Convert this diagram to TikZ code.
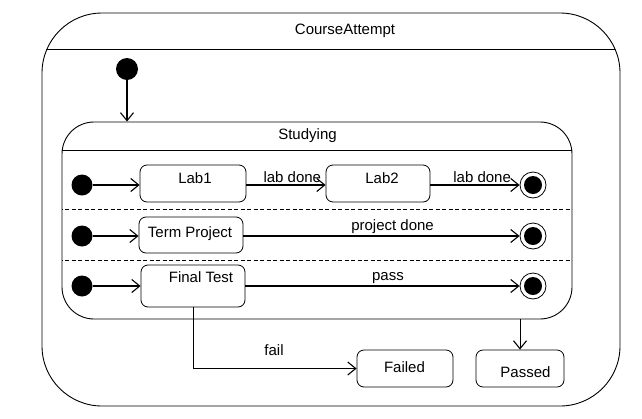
\documentclass[tikz,border=0pt]{standalone}
\usepackage{fontspec}
\setmainfont{Liberation Sans}
\usetikzlibrary{arrows.meta}
\begin{document}
\begin{tikzpicture}[x=1pt,y=-1pt,
  every node/.style={font=\fontsize{15}{18}\selectfont},
  box/.style={draw, rounded corners=7pt, line width=0.8pt, inner sep=0},
  txt/.style={inner sep=0},
  initdot/.style={circle, fill, inner sep=0, minimum size=21pt},
  finalst/.style={circle, draw, line width=0.8pt, minimum size=26pt, inner sep=0,
    path picture={\fill (path picture bounding box.center) circle (9pt);}},
  barb/.style={-{Straight Barb[length=8pt,width=13pt,line width=1.1pt]}},
  trans/.style={line width=1.3pt, barb},
  thin trans/.style={line width=0.9pt, barb},
  lbl/.style={above, inner sep=1.5pt},
  sep/.style={line width=1pt, dash pattern=on 4pt off 2.5pt}]
\useasboundingbox (0,0) rectangle (642,418);
% outer composite state
\node[draw, line width=0.9pt, rounded corners=60pt, minimum width=578pt, minimum height=393pt, inner sep=0] (outer) at (331,209.5) {};
\begin{scope}
  \clip[rounded corners=60pt] (42,13) rectangle (620,406);
  \draw[line width=0.9pt] (0,49) -- (642,49);
\end{scope}
\node[txt] (outertitle) at (345,31) {CourseAttempt};
% studying composite state
\node[draw, line width=0.9pt, rounded corners=32pt, minimum width=510pt, minimum height=197pt, inner sep=0] (studying) at (317,220.5) {};
\begin{scope}
  \clip[rounded corners=32pt] (62,122) rectangle (572,319);
  \draw[line width=0.9pt] (0,150) -- (642,150);
  \draw[sep] (0,209) -- (642,209);
  \draw[sep] (0,260) -- (642,260);
\end{scope}
\node[txt] (studytitle) at (307.5,136) {Studying};
% top initial
\node[initdot, minimum size=22pt] (init0) at (127,69) {};
\draw[trans] (init0) -- (init0 |- studying.north);
% row 1
\node[initdot] (i1) at (82,185) {};
\node[box, minimum width=106pt, minimum height=37pt] (lab1) at (193,183.5) {};
\node[txt] (lab1t) at (195,178) {Lab1};
\node[box, minimum width=104pt, minimum height=37pt] (lab2) at (378,183.5) {};
\node[txt] (lab2t) at (382,178) {Lab2};
\node[finalst] (f1) at (533,185) {};
\draw[trans] (i1) -- (lab1.west |- i1);
\draw[trans] (lab1.east |- i1) -- node[lbl, pos=0.58] {lab done} (lab2.west |- i1);
\draw[trans] (lab2.east |- i1) -- node[lbl, pos=0.58] {lab done} (f1);
% row 2
\node[initdot] (i2) at (82,236) {};
\node[box, minimum width=104pt, minimum height=36pt] (tp) at (191,235) {};
\node[txt] (tpt) at (190,234) {Term Project};
\node[finalst] (f2) at (533,236) {};
\draw[trans] (i2) -- (tp.west |- i2);
\draw[trans] (tp.east |- i2) -- node[lbl, pos=0.54] {project done} (f2);
% row 3
\node[initdot] (i3) at (82,286) {};
\node[box, minimum width=104pt, minimum height=42pt] (ft) at (193,286) {};
\node[txt] (ftt) at (201,277) {Final Test};
\node[finalst] (f3) at (533,286) {};
\draw[trans] (i3) -- (ft.west |- i3);
\draw[trans] (ft.east |- i3) -- node[lbl, pos=0.52] {pass} (f3);
% exits
\node[box, minimum width=96pt, minimum height=37pt] (failed) at (405,368.5) {};
\node[txt] (failedt) at (404.5,367) {Failed};
\node[box, minimum width=88pt, minimum height=37pt] (passed) at (520,368.5) {};
\node[txt] (passedt) at (525.5,372) {Passed};
\draw[thin trans] (ft.south) |- (failed.west);
\node[txt] (faillbl) at (274,350) {fail};
\draw[thin trans] (passed.north |- studying.south) -- (passed.north);
\end{tikzpicture}
\end{document}
